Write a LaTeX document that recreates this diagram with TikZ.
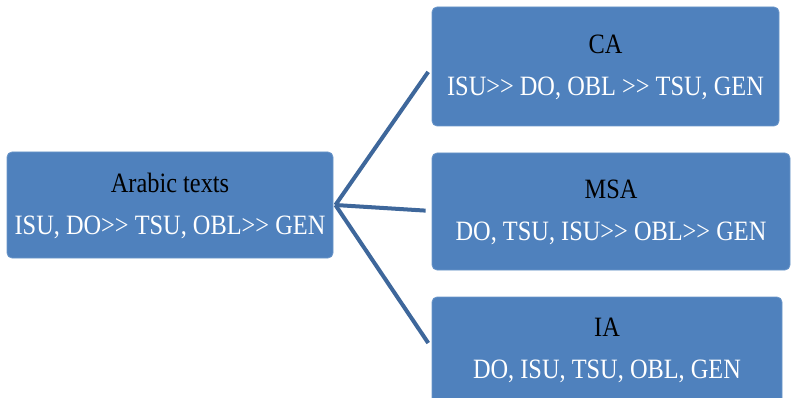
\documentclass[tikz,border=0pt]{standalone}
\usepackage{fontspec}
\setmainfont{Liberation Serif}
\newfontfamily\capfont[FakeStretch=0.87]{Liberation Serif}
\definecolor{boxfill}{HTML}{4F81BD}
\definecolor{boxedge}{HTML}{6B96C9}
\definecolor{linkcol}{HTML}{3E679B}
\begin{document}
\begin{tikzpicture}[x=1pt,y=1pt,
  panel/.style={draw=boxedge, line width=0.8pt, fill=boxfill, rounded corners=5pt, inner sep=0pt},
  caption/.style={font=\capfont\fontsize{28}{42}\selectfont, align=center, inner sep=0pt},
  link/.style={draw=linkcol, line width=4pt, shorten >=6pt}]
\useasboundingbox (0,0) rectangle (791,-398);
\begin{scope}
\clip (0,0) rectangle (791,-398);
% boxes
\node[panel, minimum width=326pt, minimum height=106pt] (src) at (170,-205) {};
\node[panel, minimum width=347pt, minimum height=119pt] (ca) at (605.5,-66.5) {};
\node[panel, minimum width=358pt, minimum height=117pt] (msa) at (611,-211.5) {};
\node[panel, minimum width=350pt, minimum height=119pt] (ia) at (607,-356.5) {};
% texts
\node[caption] (srct) at (170,-206) {\textcolor{black}{Arabic texts}\\\textcolor{white}{ISU, DO>{}> TSU, OBL>{}> GEN}};
\node[caption] (cat) at (605.5,-67) {\textcolor{black}{CA}\\\textcolor{white}{ISU>{}> DO, OBL >{}> TSU, GEN}};
\node[caption] (msat) at (611,-212) {\textcolor{black}{MSA}\\\textcolor{white}{DO, TSU, ISU>{}> OBL>{}> GEN}};
\node[caption] (iat) at (607,-350) {\textcolor{black}{IA}\\\textcolor{white}{DO, ISU, TSU, OBL, GEN}};
% connectors
\coordinate (hub) at ([xshift=2pt]src.east);
\draw[link] (hub) -- (ca.west |- 0,-67);
\draw[link] (hub) -- (msa.west |- 0,-211);
\draw[link] (hub) -- (ia.west |- 0,-348);
\end{scope}
\end{tikzpicture}
\end{document}
